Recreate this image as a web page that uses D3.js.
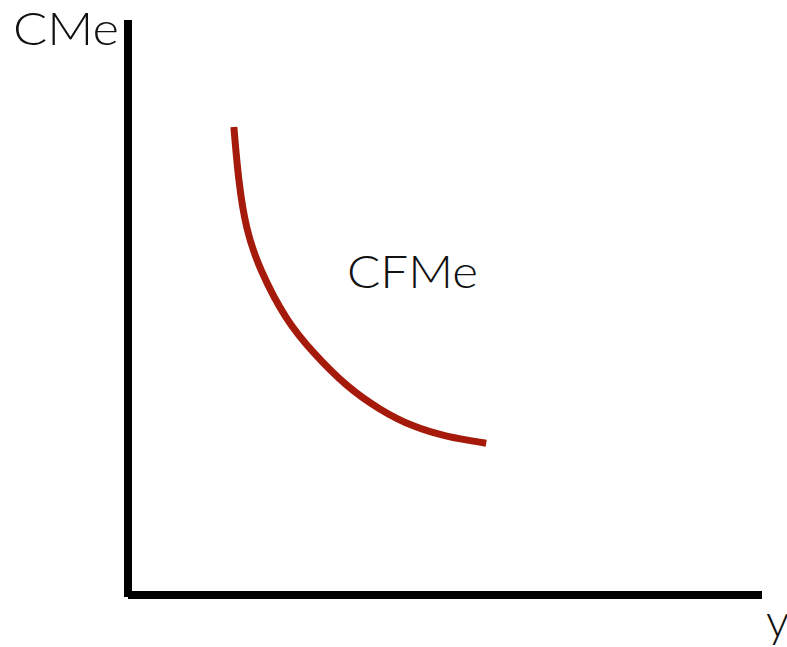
<!DOCTYPE html>
<html>
  <head>
    <style>
      body { margin: 0; background: #fff; }
      text { font-family: Lato, "DejaVu Sans", sans-serif; font-weight: 300; fill: #111; }
    </style>
  </head>
  <body>
    <svg id="chart" width="787" height="647"></svg>
    <script src="https://cdn.jsdelivr.net/npm/d3@7"></script>
    <script>
      // average fixed cost curve (arbitrary units 0..10)
      const cfmeX = [1.67, 1.74, 1.86, 2.08, 2.49, 2.92, 3.45, 3.97, 4.50, 5.03, 5.65];
      const cfmeY = [8.14, 7.22, 6.35, 5.65, 4.78, 4.21, 3.62, 3.22, 2.92, 2.75, 2.64];
      const axisLabels = ["CMe", "y"];
      const curveLabel = "CFMe";

      const svg = d3.select("#chart");

      const x = d3.scaleLinear().domain([0, 10]).range([128, 762]);
      const y = d3.scaleLinear().domain([0, 10]).range([595, 20]);

      // axes as plain thick lines
      svg.append("line")
        .attr("x1", x(0)).attr("x2", x(0))
        .attr("y1", y(10)).attr("y2", y(0) + 2)
        .attr("stroke", "black").attr("stroke-width", 8);

      svg.append("line")
        .attr("x1", x(0)).attr("x2", x(10))
        .attr("y1", y(0)).attr("y2", y(0))
        .attr("stroke", "black").attr("stroke-width", 8);

      // basis spline smooths out the reading noise in the points
      const pts = cfmeX.map((v, i) => [v, cfmeY[i]]);
      const line = d3.line()
        .x((d) => x(d[0]))
        .y((d) => y(d[1]))
        .curve(d3.curveBasis);

      svg.append("path")
        .datum(pts)
        .attr("d", line)
        .attr("fill", "none")
        .attr("stroke", "#a51a0a")
        .attr("stroke-width", 7);

      // wide geometric look: stretch glyphs to the widths in the picture
      svg.append("text")
        .attr("x", 13).attr("y", 45)
        .attr("font-size", 46)
        .attr("textLength", 106)
        .attr("lengthAdjust", "spacingAndGlyphs")
        .text(axisLabels[0]);

      svg.append("text")
        .attr("x", 766).attr("y", 637)
        .attr("font-size", 46)
        .text(axisLabels[1]);

      svg.append("text")
        .attr("x", 347).attr("y", 288)
        .attr("font-size", 46)
        .attr("textLength", 131)
        .attr("lengthAdjust", "spacingAndGlyphs")
        .text(curveLabel);
    </script>
  </body>
</html>
